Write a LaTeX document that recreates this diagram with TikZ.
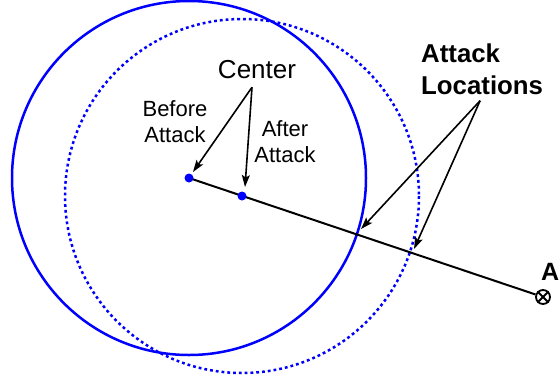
\documentclass[tikz,border=0pt]{standalone}
\usepackage{fontspec}
\setmainfont{Liberation Sans}
\usetikzlibrary{arrows.meta,positioning}

\begin{document}
\begin{tikzpicture}[x=1pt,y=-1pt,
  rangecircle/.style={draw=blue,line width=2.5pt},
  movedcircle/.style={draw=blue,line width=2.5pt,dash pattern=on 2.8pt off 3pt},
  centerdot/.style={circle,fill=blue,inner sep=0pt,minimum size=9pt},
  pointer/.style={-{Stealth[length=12pt,width=8pt,inset=2.5pt]},line width=1.6pt},
  lbl/.style={align=center,font=\fontsize{22}{26}\selectfont}]
\useasboundingbox (0,0) rectangle (559,381);

%Ranges
\coordinate (c0) at (189,178);
\coordinate (c1) at (242,196);
\draw[rangecircle] (c0) circle[radius=177];
\draw[movedcircle] (c1) circle[radius=177];

%Attacker line
\node[circle,draw,line width=1.8pt,inner sep=0pt,minimum size=14pt] (atk) at (543,297) {};
\draw[line width=1.8pt] (atk.north west) -- (atk.south east);
\draw[line width=1.8pt] (atk.north east) -- (atk.south west);
\draw[line width=2pt] (c0) -- (atk);
\node[centerdot] (pre) at (c0) {};
\node[centerdot] (post) at (c1) {};
\node[font=\bfseries\fontsize{25}{30}\selectfont,anchor=base west,inner sep=0pt] (atklbl) at (541,280) {A};

%Labels
\node[font=\fontsize{26}{31}\selectfont] (ctr) at (257,69.5) {Center};
\node[lbl] (beforelbl) at (175,122) {Before\\Attack};
\node[lbl] (afterlbl) at (285,142) {After\\Attack};
\node[align=left,anchor=west,inner sep=0pt,font=\bfseries\fontsize{25.8}{32}\selectfont] (locs) at (421,69) {Attack\\Locations};

%Pointers
\coordinate (ctrtail) at ([xshift=-5pt,yshift=-5pt]ctr.south);
\coordinate (locstail) at ([xshift=-2pt,yshift=-6pt]locs.south);
\coordinate (hit0) at (361,229);
\coordinate (hit1) at (414,249);
\draw[pointer] (ctrtail) -- ([shift={(4pt,6pt)}]pre.center);
\draw[pointer] (ctrtail) -- ([shift={(3pt,9pt)}]post.center);
\draw[pointer] (locstail) -- (hit0);
\draw[pointer] (locstail) -- (hit1);
\end{tikzpicture}
\end{document}
